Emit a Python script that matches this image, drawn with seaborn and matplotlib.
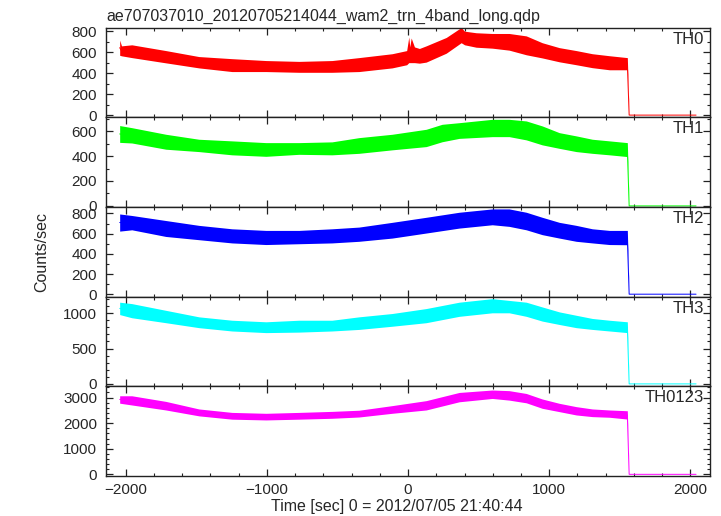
import pandas as pd
import matplotlib
matplotlib.use("Agg")
import matplotlib.pyplot as plt
from matplotlib.ticker import MultipleLocator
import seaborn as sns

# Light curve bands (time in sec, low / high edge of the noisy band)
th0_time = [-2043, -2030, -1957, -1716, -1482, -1248, -1007, -773, -539, -348, -113, -10, 5, 12, 22,
            45, 80, 128, 270, 376, 400, 482, 596, 716, 837, 950, 1071, 1191, 1305, 1426, 1553, 1566, 2040]
th0_low = [570, 565, 548, 498, 450, 415, 415, 408, 408, 415, 450, 480, 500, 500, 500,
           500, 495, 505, 590, 690, 670, 647, 638, 619, 575, 545, 508, 480, 452, 432, 432, 0, 0]
th0_high = [715, 660, 670, 615, 558, 538, 520, 512, 520, 548, 585, 615, 745, 650, 735,
            650, 635, 660, 740, 835, 800, 785, 778, 778, 755, 690, 643, 615, 585, 566, 548, 0, 0]

th1_time = [-2043, -1957, -1716, -1482, -1248, -1007, -773, -539, -348, -113, 128, 241, 362,
            596, 716, 837, 950, 1071, 1191, 1305, 1426, 1553, 1566, 2040]
th1_low = [510, 505, 455, 436, 410, 398, 414, 410, 422, 450, 476, 515, 542,
           556, 556, 530, 490, 462, 436, 422, 410, 396, 0, 0]
th1_high = [645, 628, 575, 535, 522, 508, 508, 514, 548, 575, 615, 655, 668,
            695, 695, 682, 642, 588, 562, 535, 522, 508, 0, 0]

grid_time = [-2043, -1957, -1716, -1482, -1248, -1007, -773, -539, -348, -113, 128, 362,
             596, 716, 837, 950, 1071, 1191, 1305, 1426, 1553, 1566, 2040]

th2_low = [625, 638, 572, 540, 508, 492, 500, 508, 524, 556, 606, 655,
           688, 672, 638, 590, 556, 524, 508, 492, 490, 0, 0]
th2_high = [795, 780, 730, 682, 648, 632, 632, 648, 665, 712, 762, 812,
            845, 845, 812, 762, 712, 682, 648, 632, 632, 0, 0]

th3_low = [980, 935, 865, 795, 748, 725, 732, 748, 770, 815, 865, 955,
           1005, 1005, 955, 888, 840, 795, 770, 748, 725, 0, 0]
th3_high = [1155, 1135, 1040, 948, 900, 878, 900, 900, 948, 995, 1065, 1155,
            1205, 1180, 1155, 1088, 1018, 970, 925, 900, 878, 0, 0]

th0123_low = [2780, 2710, 2515, 2285, 2155, 2125, 2155, 2190, 2240, 2385, 2515, 2835,
              2965, 2900, 2795, 2580, 2450, 2320, 2255, 2230, 2160, 0, 0]
th0123_high = [3070, 3070, 2850, 2555, 2420, 2385, 2420, 2460, 2505, 2685, 2880, 3200,
               3295, 3270, 3160, 2945, 2775, 2645, 2555, 2515, 2485, 0, 0]

band_names = ["TH0", "TH1", "TH2", "TH3", "TH0123"]
band_colors = ["#ff0000", "#00ff00", "#0000ff", "#00ffff", "#ff00ff"]

panels = [
    (th0_time, th0_low, th0_high, (-20, 835), 200, 100),
    (th1_time, th1_low, th1_high, (-8, 712), 200, 100),
    (grid_time, th2_low, th2_high, (-24, 865), 200, 100),
    (grid_time, th3_low, th3_high, (-34, 1234), 500, 100),
    (grid_time, th0123_low, th0123_high, (-66, 3440), 1000, 200),
]

sns.set_style("ticks")
plt.rcParams['font.family'] = ['Liberation Sans', 'DejaVu Sans']
plt.rcParams['xtick.direction'] = 'in'
plt.rcParams['ytick.direction'] = 'in'

fig, axes = plt.subplots(5, 1, figsize=(7.21, 5.16), dpi=100, sharex=True)
fig.subplots_adjust(left=0.147, right=0.985, top=0.9467, bottom=0.0775, hspace=0)

for ax, name, color, (t, lo, hi, ylim, major, minor) in zip(axes, band_names, band_colors, panels):
    df = pd.DataFrame({'time': t + t, 'rate': lo + hi})
    sns.lineplot(data=df, x='time', y='rate', ax=ax, color=color, linewidth=0.7,
                 estimator='mean', errorbar=lambda v: (v.min(), v.max()),
                 err_kws={'alpha': 1, 'linewidth': 0})
    ax.set_ylim(*ylim)
    ax.set_xlim(-2140, 2140)
    ax.yaxis.set_major_locator(MultipleLocator(major))
    ax.yaxis.set_minor_locator(MultipleLocator(minor))
    ax.xaxis.set_major_locator(MultipleLocator(1000))
    ax.xaxis.set_minor_locator(MultipleLocator(200))
    ax.tick_params(which='both', top=True, right=True, color='#222222')
    ax.tick_params(which='major', length=5, width=0.9, labelsize=11, pad=5)
    ax.tick_params(which='minor', length=2.5, width=0.8)
    ax.tick_params(axis='y', pad=6.5)
    for s in ax.spines.values():
        s.set_color('#222222')
        s.set_linewidth(1)
    ax.set_xlabel('')
    ax.set_ylabel('')
    ax.text(0.99, 0.955, name, transform=ax.transAxes, ha='right', va='top', fontsize=12)

fig.text(0.148, 0.960, "ae707037010_20120705214044_wam2_trn_4band_long.qdp",
         ha='left', va='baseline', fontsize=11.5)
fig.text(0.551, 0.019, "Time [sec] 0 = 2012/07/05 21:40:44", ha='center', va='center', fontsize=11.5)
fig.text(0.058, 0.512, "Counts/sec", rotation=90, ha='center', va='center', fontsize=11.5)

fig.savefig("out.png", dpi=100)
